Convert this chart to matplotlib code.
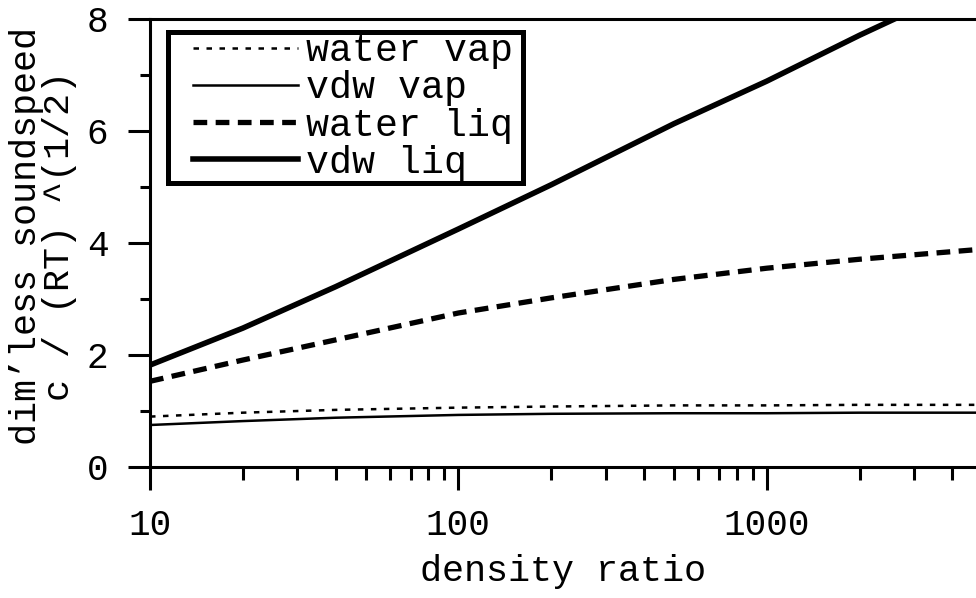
import matplotlib
matplotlib.use("Agg")
import matplotlib.pyplot as plt
from matplotlib.patches import Rectangle
from matplotlib.ticker import FixedLocator, NullFormatter, FuncFormatter

plt.rcParams['font.family'] = ['Liberation Mono', 'DejaVu Sans Mono']

# density ratio and dimensionless sound speed for each branch
density = [10, 20, 40, 100, 200, 500, 1000, 2000, 5000]
water_vap = [0.90, 0.97, 1.02, 1.06, 1.08, 1.10, 1.10, 1.11, 1.11]
vdw_vap = [0.75, 0.82, 0.88, 0.93, 0.95, 0.96, 0.96, 0.97, 0.97]
water_liq = [1.53, 1.91, 2.27, 2.75, 3.02, 3.35, 3.55, 3.71, 3.89]
vdw_liq = [1.82, 2.48, 3.22, 4.25, 5.04, 6.13, 6.89, 7.71, 8.73]

yticks = [0, 2, 4, 6, 8]
yminor = [1, 3, 5, 7]
xticks = [10, 100, 1000]

fig = plt.figure(figsize=(9.76, 5.98), dpi=100)
ax = fig.add_axes([150/976, 1 - 467/598, 1 - 150/976, (467 - 19)/598])

ax.plot(density, water_vap, color='black', lw=1.8, ls=(0, (2.2, 3.0)), label='water vap')
ax.plot(density, vdw_vap, color='black', lw=1.8, label='vdw vap')
ax.plot(density, water_liq, color='black', lw=3.8, ls=(0, (2.6, 1.6)), label='water liq')
ax.plot(density, vdw_liq, color='black', lw=4.0, label='vdw liq')

ax.set_xscale('log')
ax.set_xlim(10, 10 ** (3 + 209/308))
ax.set_ylim(0, 8)

ax.xaxis.set_major_locator(FixedLocator(xticks))
minors = [m * d for d in (10, 100, 1000) for m in range(2, 10)]
ax.xaxis.set_minor_locator(FixedLocator(minors))
ax.xaxis.set_major_formatter(FuncFormatter(lambda v, p: f"{int(v)}"))
ax.xaxis.set_minor_formatter(NullFormatter())
ax.yaxis.set_major_locator(FixedLocator(yticks))
ax.yaxis.set_minor_locator(FixedLocator(yminor))

for s in ['left', 'bottom', 'top']:
    ax.spines[s].set_linewidth(2.2)
ax.spines['right'].set_visible(False)

ax.tick_params(axis='both', which='major', direction='out', width=2.2, labelsize=26)
ax.tick_params(axis='x', which='major', length=16.5, pad=13)
ax.tick_params(axis='x', which='minor', direction='out', length=9, width=2.2)
ax.tick_params(axis='y', which='major', length=16, pad=14)
ax.tick_params(axis='y', which='minor', direction='out', length=7.5, width=2.2)

ax.set_xlabel('density ratio', fontsize=26.5, labelpad=8)
ax.set_ylabel('dim\u2019less soundspeed\nc / (RT) ^(1/2)', fontsize=26.5,
              linespacing=0.95)
ax.yaxis.set_label_coords(-0.088, 0.515)

# legend box drawn separately so the padding can be uneven
box = Rectangle((0.0218, 0.634), 0.43, 0.337, transform=ax.transAxes,
                facecolor='white', edgecolor='black', lw=3.6, zorder=4)
ax.add_patch(box)
leg = ax.legend(loc='upper left', bbox_to_anchor=(0.052, 0.968), fontsize=27.5,
                handlelength=2.75, handletextpad=0.22, labelspacing=0.03,
                borderpad=0.0, borderaxespad=0.0, frameon=False)
leg.set_zorder(5)

fig.savefig('out.png', dpi=100)
